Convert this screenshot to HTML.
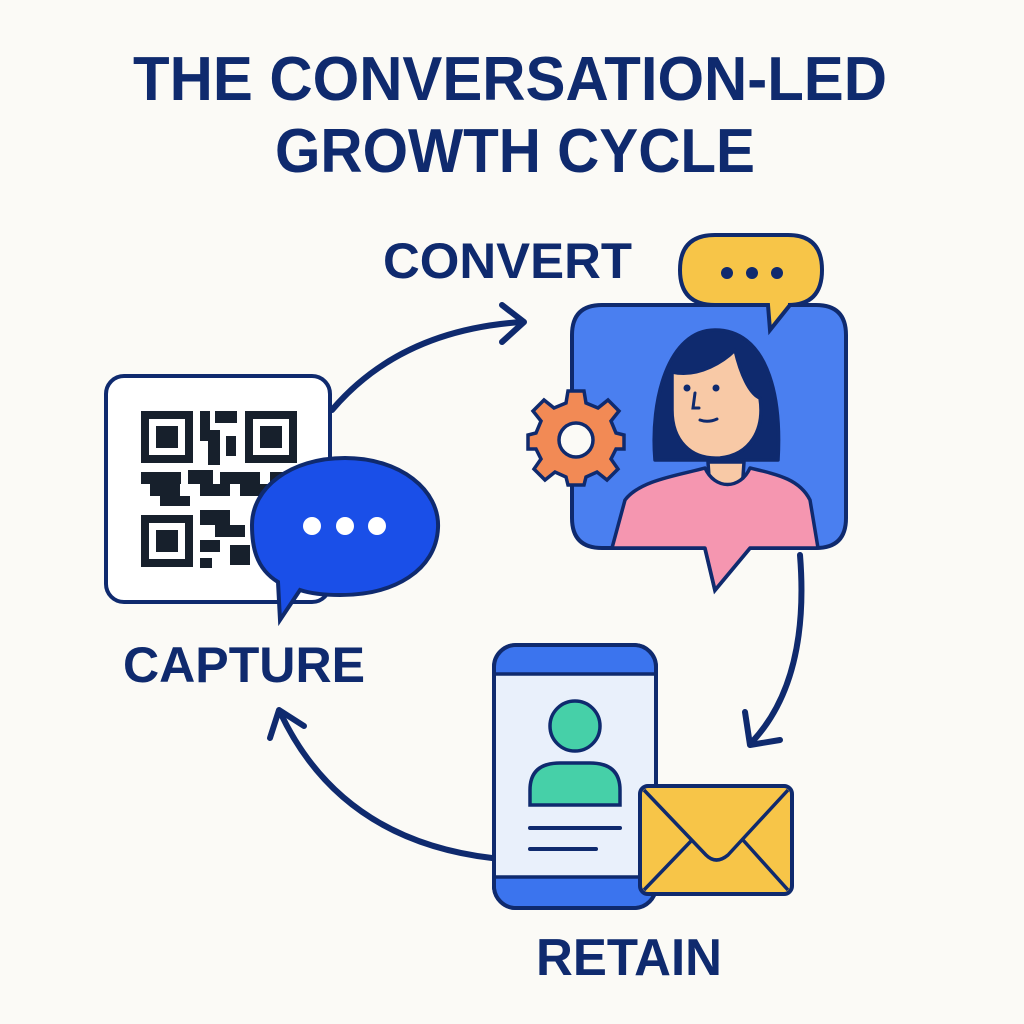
<!DOCTYPE html>
<html><head><meta charset="utf-8"><style>html,body{margin:0;padding:0;background:#fbfaf6}svg{display:block}</style></head>
<body>
<svg width="1024" height="1024" viewBox="0 0 1024 1024" xmlns="http://www.w3.org/2000/svg">
<rect width="1024" height="1024" fill="#fbfaf6"/>
<g font-family="Liberation Sans, Arial, sans-serif" font-weight="bold" fill="#0f2a6e">
<text x="133" y="100" font-size="62" textLength="754" lengthAdjust="spacingAndGlyphs">THE CONVERSATION-LED</text>
<text x="275" y="172" font-size="62" textLength="480" lengthAdjust="spacingAndGlyphs">GROWTH CYCLE</text>
<text x="383" y="278" font-size="50" textLength="249" lengthAdjust="spacingAndGlyphs">CONVERT</text>
<text x="123" y="682" font-size="50" textLength="242" lengthAdjust="spacingAndGlyphs">CAPTURE</text>
<text x="536" y="975" font-size="52" textLength="186" lengthAdjust="spacingAndGlyphs">RETAIN</text>
</g>
<!-- arrows -->
<g fill="none" stroke="#0f2a6e" stroke-width="6" stroke-linecap="round" stroke-linejoin="round">
<path d="M332 410 Q400 330 522 322"/>
<path d="M502 305 L524 322 L502 342"/>
<path d="M800 555 Q810 680 752 742"/>
<path d="M745 712 L750 745 L780 740"/>
<path d="M492 858 Q340 840 280 712"/>
<path d="M270 738 L279 710 L304 726"/>
</g>
<!-- QR box -->
<rect x="106" y="376" width="224" height="226" rx="18" fill="#fff" stroke="#0f2a6e" stroke-width="4"/>
<g fill="#17202c">
<rect x="141" y="411" width="52" height="52"/><rect x="149" y="419" width="36" height="36" fill="#fff"/><rect x="156" y="426" width="22" height="22"/>
<rect x="245" y="411" width="52" height="52"/><rect x="253" y="419" width="36" height="36" fill="#fff"/><rect x="260" y="426" width="22" height="22"/>
<rect x="141" y="515" width="52" height="52"/><rect x="149" y="523" width="36" height="36" fill="#fff"/><rect x="156" y="530" width="22" height="22"/>
<rect x="200" y="411" width="10" height="30"/><rect x="215" y="411" width="22" height="12"/><rect x="208" y="430" width="12" height="35"/><rect x="226" y="436" width="10" height="20"/>
<rect x="141" y="472" width="40" height="12"/><rect x="150" y="484" width="30" height="12"/><rect x="188" y="470" width="25" height="14"/><rect x="200" y="484" width="30" height="12"/><rect x="160" y="496" width="30" height="10"/>
<rect x="220" y="472" width="40" height="12"/><rect x="240" y="484" width="35" height="12"/><rect x="270" y="472" width="20" height="20"/>
<rect x="200" y="510" width="30" height="15"/><rect x="215" y="525" width="30" height="12"/><rect x="200" y="540" width="20" height="12"/><rect x="230" y="545" width="20" height="20"/><rect x="200" y="558" width="12" height="10"/>
</g>
<!-- blue bubble -->
<path d="M345 458 C400 458 440 490 438 528 C436 570 395 595 340 595 C325 595 312 594 300 590 L280 620 L278 582 C255 568 252 545 252 525 C252 488 290 458 345 458 Z" fill="#1a4fe8" stroke="#0f2a6e" stroke-width="4"/>
<circle cx="312" cy="526" r="9" fill="#fff"/><circle cx="345" cy="526" r="9" fill="#fff"/><circle cx="377" cy="526" r="9" fill="#fff"/>
<!-- convert box -->
<path d="M602 305 H816 Q846 305 846 335 V518 Q846 548 816 548 H750 L715 590 L705 548 H602 Q572 548 572 518 V335 Q572 305 602 305 Z" fill="#4a7ff0" stroke="#0f2a6e" stroke-width="4"/>
<!-- woman -->
<clipPath id="cb"><path d="M602 305 H816 Q846 305 846 335 V518 Q846 548 816 548 H750 L715 590 L705 548 H602 Q572 548 572 518 V335 Q572 305 602 305 Z"/></clipPath>
<g stroke="#0f2a6e" stroke-width="3.5" stroke-linejoin="round">
<path d="M655 460 C650 400 668 330 715 330 C765 330 782 390 778 460 Z" fill="#0f2a6e"/>
<path d="M708 462 L710 492 L742 492 L744 462 Z" fill="#f8c9a6"/>
<path d="M672 372 C700 378 725 360 735 350 C742 380 752 395 760 398 C765 430 750 455 720 458 C690 460 672 440 672 410 Z" fill="#f8c9a6"/>
<path d="M612 548 L625 500 C640 480 680 475 705 468 C715 490 740 490 750 468 C780 475 800 480 810 500 L818 548 L750 548 L715 590 L705 548 Z" fill="#f596b0"/>
</g>
<circle cx="687" cy="388" r="3.5" fill="#0f2a6e"/><circle cx="716" cy="388" r="3.5" fill="#0f2a6e"/>
<path d="M695 393 L693 408 L699 408 M700 420 Q708 423 717 419" fill="none" stroke="#0f2a6e" stroke-width="3" stroke-linecap="round"/>
<!-- yellow bubble -->
<path d="M715 235 H788 Q822 235 822 270 Q822 305 788 305 H790 L770 330 L768 305 H715 Q680 305 680 270 Q680 235 715 235 Z" fill="#f7c548" stroke="#0f2a6e" stroke-width="4"/>
<circle cx="727" cy="273" r="6" fill="#0f2a6e"/><circle cx="752" cy="273" r="6" fill="#0f2a6e"/><circle cx="777" cy="273" r="6" fill="#0f2a6e"/>
<!-- gear -->
<g transform="translate(576,437)" stroke="#0f2a6e" stroke-width="3.5" fill="#f28a55">
<path d="M-8 -46 H8 L10 -34 L22 -29 L32 -37 L43 -26 L35 -16 L40 -4 L48 -2 V12 L40 12 L35 22 L42 32 L31 43 L21 35 L10 40 L8 48 H-8 L-10 40 L-21 35 L-31 43 L-42 32 L-35 22 L-40 12 L-48 12 V-2 L-40 -4 L-35 -16 L-43 -26 L-32 -37 L-22 -29 L-10 -34 Z"/>
<circle cx="0" cy="3" r="17" fill="#fbfaf6"/>
</g>
<!-- phone -->
<rect x="494" y="645" width="162" height="263" rx="22" fill="#e9f0fb" stroke="#0f2a6e" stroke-width="4"/>
<path d="M516 647 H634 Q654 647 654 667 V673 H496 V667 Q496 647 516 647 Z" fill="#3b74ee"/>
<path d="M496 877 H654 V886 Q654 906 634 906 H516 Q496 906 496 886 Z" fill="#3b74ee"/>
<line x1="496" y1="674" x2="654" y2="674" stroke="#0f2a6e" stroke-width="3.5"/>
<line x1="496" y1="877" x2="654" y2="877" stroke="#0f2a6e" stroke-width="3.5"/>
<rect x="494" y="645" width="162" height="263" rx="22" fill="none" stroke="#0f2a6e" stroke-width="4"/>
<circle cx="575" cy="726" r="25" fill="#46d0a8" stroke="#0f2a6e" stroke-width="3.5"/>
<path d="M530 805 V790 Q530 763 560 763 H590 Q620 763 620 790 V805 Z" fill="#46d0a8" stroke="#0f2a6e" stroke-width="3.5"/>
<line x1="530" y1="828" x2="620" y2="828" stroke="#0f2a6e" stroke-width="4" stroke-linecap="round"/>
<line x1="530" y1="849" x2="596" y2="849" stroke="#0f2a6e" stroke-width="4" stroke-linecap="round"/>
<!-- envelope -->
<rect x="640" y="786" width="152" height="108" rx="8" fill="#f7c548" stroke="#0f2a6e" stroke-width="4"/>
<path d="M644 790 L706 855 Q716 865 728 855 L788 790 M644 890 L692 840 M788 890 L743 840" fill="none" stroke="#0f2a6e" stroke-width="3.5" stroke-linejoin="round"/>
</svg>
</body></html>
